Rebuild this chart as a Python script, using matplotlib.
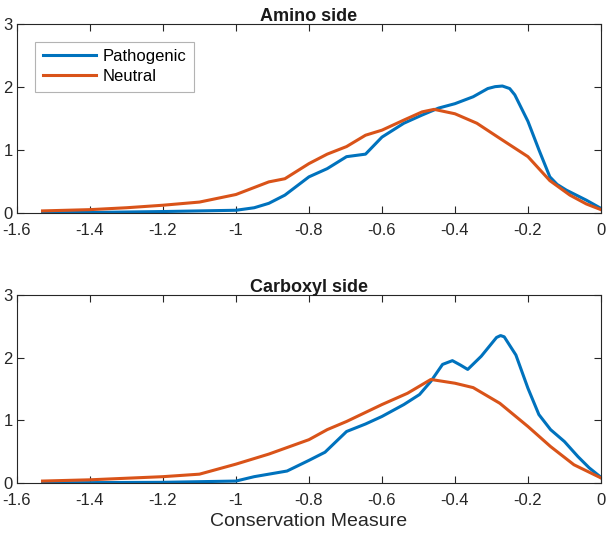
import matplotlib
matplotlib.use('Agg')
import matplotlib.pyplot as plt

plt.rcParams['font.family'] = ['Liberation Sans', 'DejaVu Sans']

# Amino side
amino_path_x = [-1.53, -1.4, -1.2, -1.0, -0.95, -0.91, -0.866, -0.8, -0.75, -0.697, -0.645,
                -0.6, -0.54, -0.49, -0.445, -0.4, -0.35, -0.31, -0.29, -0.27, -0.25, -0.236,
                -0.2, -0.17, -0.14, -0.12, -0.095, -0.04, 0.0]
amino_path_y = [0.0, 0.005, 0.02, 0.04, 0.08, 0.15, 0.28, 0.57, 0.70, 0.89, 0.93,
                1.20, 1.42, 1.55, 1.66, 1.73, 1.84, 1.97, 2.00, 2.01, 1.97, 1.87,
                1.45, 1.00, 0.57, 0.45, 0.36, 0.20, 0.07]
amino_neut_x = [-1.53, -1.4, -1.3, -1.2, -1.1, -1.0, -0.91, -0.866, -0.8, -0.75, -0.697,
                -0.645, -0.6, -0.54, -0.49, -0.457, -0.4, -0.34, -0.277, -0.2, -0.14,
                -0.085, -0.04, 0.0]
amino_neut_y = [0.03, 0.05, 0.08, 0.12, 0.17, 0.29, 0.49, 0.54, 0.78, 0.93, 1.05,
                1.23, 1.31, 1.47, 1.60, 1.64, 1.57, 1.42, 1.18, 0.89, 0.51,
                0.28, 0.14, 0.05]

# Carboxyl side
carb_path_x = [-1.53, -1.4, -1.2, -1.0, -0.95, -0.91, -0.86, -0.8, -0.756, -0.697, -0.645,
               -0.6, -0.54, -0.497, -0.466, -0.434, -0.407, -0.385, -0.365, -0.328, -0.286,
               -0.275, -0.265, -0.233, -0.2, -0.17, -0.138, -0.1, -0.063, -0.032, 0.0]
carb_path_y = [0.0, 0.005, 0.01, 0.03, 0.10, 0.14, 0.19, 0.36, 0.49, 0.82, 0.94,
               1.06, 1.25, 1.41, 1.62, 1.89, 1.95, 1.88, 1.81, 2.02, 2.32,
               2.35, 2.33, 2.04, 1.51, 1.09, 0.85, 0.66, 0.42, 0.24, 0.09]
carb_neut_x = [-1.53, -1.4, -1.2, -1.1, -1.0, -0.91, -0.8, -0.75, -0.697, -0.6, -0.53,
               -0.466, -0.4, -0.35, -0.277, -0.2, -0.138, -0.074, 0.0]
carb_neut_y = [0.03, 0.05, 0.10, 0.14, 0.30, 0.46, 0.69, 0.85, 0.98, 1.25, 1.43,
               1.65, 1.59, 1.52, 1.27, 0.90, 0.58, 0.29, 0.08]

blue = '#0072BD'
orange = '#D95319'
spine = '#262626'

fig = plt.figure(figsize=(6.07, 5.36), dpi=100)
ax1 = fig.add_axes([0.028, 0.603, 0.962, 0.353])
ax2 = fig.add_axes([0.028, 0.099, 0.962, 0.351])

panels = [
    (ax1, 'Amino side', amino_path_x, amino_path_y, amino_neut_x, amino_neut_y),
    (ax2, 'Carboxyl side', carb_path_x, carb_path_y, carb_neut_x, carb_neut_y),
]

for ax, title, px, py, nx, ny in panels:
    ax.plot(px, py, color=blue, linewidth=2.2, label='Pathogenic')
    ax.plot(nx, ny, color=orange, linewidth=2.2, label='Neutral')
    ax.set_xlim(-1.6, 0)
    ax.set_ylim(0, 3)
    ax.set_xticks([-1.6, -1.4, -1.2, -1, -0.8, -0.6, -0.4, -0.2, 0])
    ax.set_xticklabels(['-1.6', '-1.4', '-1.2', '-1', '-0.8', '-0.6', '-0.4', '-0.2', '0'])
    ax.set_yticks([0, 1, 2, 3])
    ax.tick_params(direction='in', top=True, right=True, length=5, width=0.8,
                   colors=spine, labelsize=12)
    ax.tick_params(axis='x', pad=7)
    ax.tick_params(axis='y', pad=3)
    for s in ax.spines.values():
        s.set_color(spine)
        s.set_linewidth(0.8)
    ax.set_title(title, fontsize=13, fontweight='bold', color='#1a1a1a', pad=2)

leg = ax1.legend(loc='upper left', bbox_to_anchor=(0.031, 0.905), borderaxespad=0,
                 fontsize=12, frameon=True, fancybox=False, handlelength=3.2,
                 handletextpad=0.4, borderpad=0.45, labelspacing=0.3)
leg.get_frame().set_edgecolor('#a0a0a0')
leg.get_frame().set_linewidth(0.8)

ax2.set_xlabel('Conservation Measure', fontsize=14, color='#262626', labelpad=4)

fig.savefig('out.png', dpi=100)
